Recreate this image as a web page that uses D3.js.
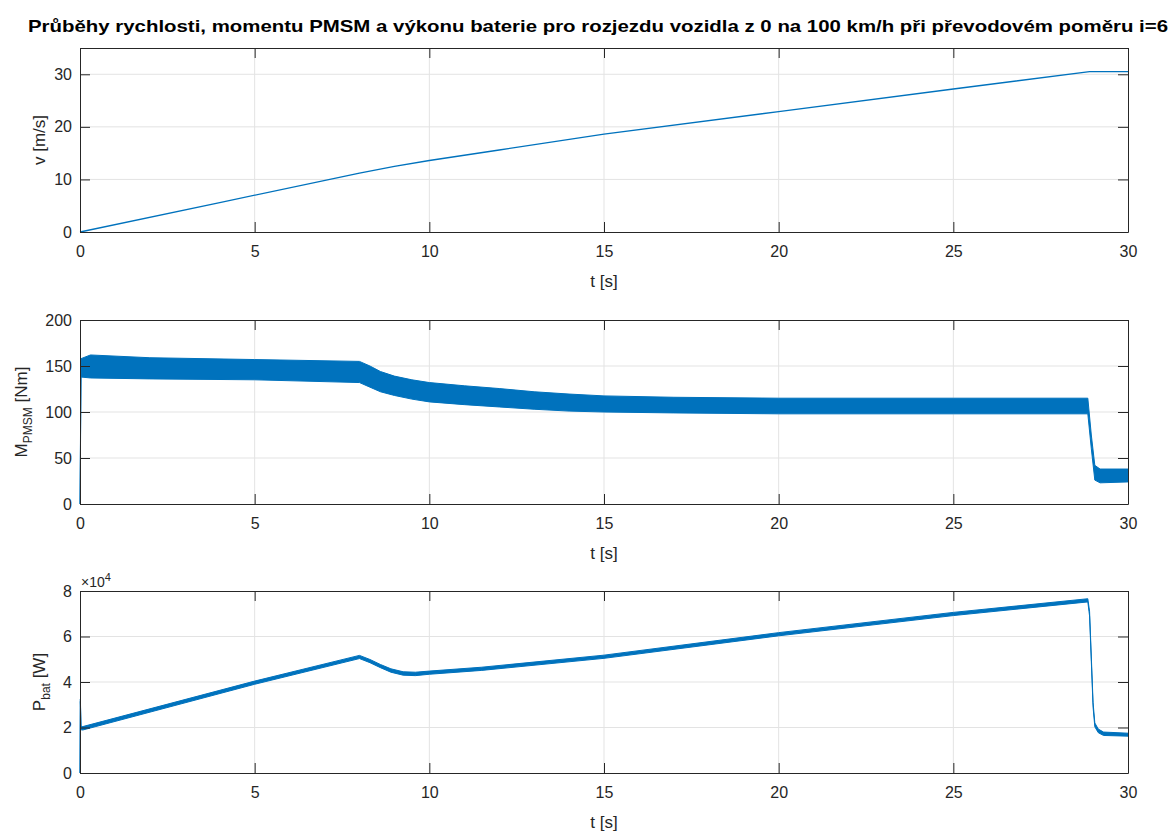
<!DOCTYPE html>
<html>
<head>
<meta charset="utf-8">
<script src="https://cdn.jsdelivr.net/npm/d3@7"></script>
<style>
  body { margin: 0; background: #fff; }
  text { font-family: "Liberation Sans", Arial, sans-serif; fill: #262626; }
</style>
</head>
<body>
<div id="chart"></div>
<script>
// rychlost vozidla v [m/s]
var vTime = [0, 4, 8, 9, 10, 12, 15, 20, 25, 28.9, 30];
var vValue = [0, 5.6, 11.2, 12.5, 13.6, 15.6, 18.6, 22.9, 27.2, 30.5, 30.5];

// moment PMSM - obalka sumu [Nm]
var mTime  = [0, 0.03, 0.3, 2, 5, 8, 8.3, 8.6, 9, 9.5, 10, 11, 12, 13, 14, 15, 17, 20, 25, 28.85, 28.95, 29.05, 29.2, 30];
var mUpper = [0, 158, 162, 159, 157, 155, 150, 144, 139, 135, 132, 128.5, 125.5, 122, 119.5, 117.5, 116, 115, 115, 115, 75, 42, 38, 38];
var mLower = [0, 138, 137, 136, 135, 132, 127, 122, 118, 114, 111, 108, 105.5, 103, 101, 100, 99, 98, 98, 98, 60, 26, 23, 24];

// vykon baterie - obalka [W]
var pTime  = [0, 0.01, 0.03, 0.08, 5, 8, 8.3, 8.6, 8.9, 9.25, 9.6, 10, 11.5, 15, 20, 25, 28.85, 28.9, 28.95, 29.0, 29.05, 29.15, 29.3, 30];
var pUpper = [0, 32500, 20500, 20400, 40400, 51700, 49900, 47700, 45800, 44500, 44300, 44800, 46500, 51800, 61700, 70600, 76600, 71000, 51000, 31000, 22000, 19300, 18000, 17500];
var pLower = [0, 31500, 19000, 18900, 39000, 50300, 48500, 46300, 44300, 43000, 42800, 43400, 45100, 50400, 60300, 69200, 75200, 69000, 49000, 29000, 20300, 17700, 16500, 16200];

var xTicks = [0, 5, 10, 15, 20, 25, 30];

var svgWidth = 1173;
var svgHeight = 832;
var left = 80, right = 1128;
var blue = "#0072BD";

var svg = d3.select("#chart").append("svg")
  .attr("width", svgWidth)
  .attr("height", svgHeight);

svg.append("text")
  .attr("x", 28)
  .attr("y", 32)
  .attr("textLength", 1140)
  .attr("lengthAdjust", "spacingAndGlyphs")
  .style("font-size", "17px")
  .style("font-weight", "bold")
  .style("fill", "#000")
  .text("Průběhy rychlosti, momentu PMSM a výkonu baterie pro rozjezdu vozidla z 0 na 100 km/h při převodovém poměru i=6");

var xScale = d3.scaleLinear().domain([0, 30]).range([left, right]);

function drawPanel(top, bottom, yDomain, yTicks, yFormat) {
  var yScale = d3.scaleLinear().domain(yDomain).range([bottom, top]);
  var g = svg.append("g");

  // grid
  g.selectAll(".gx").data(xTicks.slice(1, -1)).enter().append("line")
    .attr("x1", d => xScale(d)).attr("x2", d => xScale(d))
    .attr("y1", top).attr("y2", bottom)
    .attr("stroke", "#e3e3e3").attr("stroke-width", 1);
  g.selectAll(".gy").data(yTicks.filter(d => d > yDomain[0] && d < yDomain[1])).enter().append("line")
    .attr("x1", left).attr("x2", right)
    .attr("y1", d => yScale(d)).attr("y2", d => yScale(d))
    .attr("stroke", "#e3e3e3").attr("stroke-width", 1);

  var plot = g.append("g");

  // osy s tiky dovnitr
  var bottomAxis = d3.axisBottom(xScale).tickValues(xTicks).tickSizeInner(-10).tickSizeOuter(0).tickPadding(14);
  var topAxis = d3.axisTop(xScale).tickValues(xTicks).tickSizeInner(-10).tickSizeOuter(0).tickFormat("");
  var leftAxis = d3.axisLeft(yScale).tickValues(yTicks).tickSizeInner(-10).tickSizeOuter(0).tickPadding(8).tickFormat(yFormat);
  var rightAxis = d3.axisRight(yScale).tickValues(yTicks).tickSizeInner(-10).tickSizeOuter(0).tickFormat("");

  [[bottomAxis, `translate(0,${bottom})`], [topAxis, `translate(0,${top})`],
   [leftAxis, `translate(${left},0)`], [rightAxis, `translate(${right},0)`]].forEach(function(a) {
    var ax = g.append("g").attr("transform", a[1]).call(a[0]);
    ax.select(".domain").attr("stroke", "#262626");
    ax.selectAll(".tick line").attr("stroke", "#262626");
    ax.selectAll(".tick text").style("font-size", "16px").style("font-family", "Liberation Sans, Arial, sans-serif").attr("fill", "#262626");
  });

  g.append("text")
    .attr("x", (left + right) / 2)
    .attr("y", bottom + 55)
    .attr("text-anchor", "middle")
    .style("font-size", "17px")
    .text("t [s]");

  return { plot: plot, y: yScale };
}

// 1) rychlost
var p1 = drawPanel(48, 232, [0, 35], [0, 10, 20, 30], d3.format("d"));
p1.plot.append("path")
  .datum(vTime)
  .attr("fill", "none")
  .attr("stroke", blue)
  .attr("stroke-width", 1.3)
  .attr("d", d3.line().x(d => xScale(d)).y((d, i) => p1.y(vValue[i])));
svg.append("text")
  .attr("transform", `translate(45,${(48 + 232) / 2}) rotate(-90)`)
  .attr("text-anchor", "middle")
  .style("font-size", "17px")
  .text("v [m/s]");

// 2) moment PMSM
var p2 = drawPanel(320, 504, [0, 200], [0, 50, 100, 150, 200], d3.format("d"));
p2.plot.append("path")
  .datum(mTime)
  .attr("fill", blue)
  .attr("stroke", blue)
  .attr("stroke-width", 1)
  .attr("d", d3.area().x(d => xScale(d)).y0((d, i) => p2.y(mLower[i])).y1((d, i) => p2.y(mUpper[i])));
var mLab = svg.append("text")
  .attr("transform", `translate(27,${(320 + 504) / 2}) rotate(-90)`)
  .attr("text-anchor", "middle")
  .style("font-size", "17px");
mLab.append("tspan").text("M");
mLab.append("tspan").attr("dy", 5).style("font-size", "12px").text("PMSM");
mLab.append("tspan").attr("dy", -5).text(" [Nm]");

// 3) vykon baterie
var p3 = drawPanel(591, 773, [0, 80000], [0, 20000, 40000, 60000, 80000], d => d / 10000);
p3.plot.append("path")
  .datum(pTime)
  .attr("fill", blue)
  .attr("stroke", blue)
  .attr("stroke-width", 1)
  .attr("d", d3.area().x(d => xScale(d)).y0((d, i) => p3.y(pLower[i])).y1((d, i) => p3.y(pUpper[i])));
var pLab = svg.append("text")
  .attr("transform", `translate(45,${(591 + 773) / 2}) rotate(-90)`)
  .attr("text-anchor", "middle")
  .style("font-size", "17px");
pLab.append("tspan").text("P");
pLab.append("tspan").attr("dy", 5).style("font-size", "12px").text("bat");
pLab.append("tspan").attr("dy", -5).text(" [W]");

var exp = svg.append("text")
  .attr("x", 81)
  .attr("y", 587)
  .style("font-size", "14px");
exp.append("tspan").text("×10");
exp.append("tspan").attr("dy", -6).style("font-size", "11px").text("4");
</script>
</body>
</html>
